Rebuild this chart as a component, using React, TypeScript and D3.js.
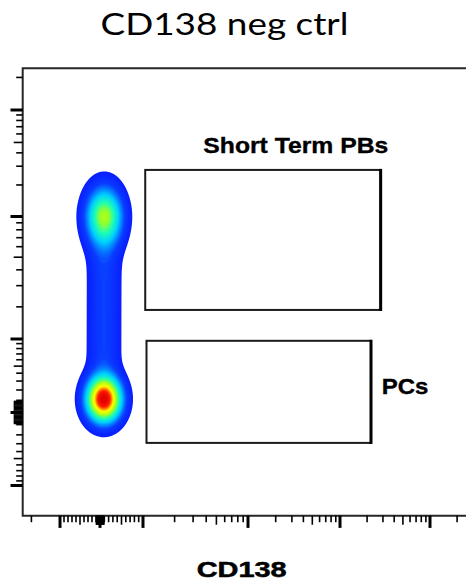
import React from 'react';
import * as d3 from 'd3';

// ---------------- DATA ----------------
const titleText = 'CD138 neg ctrl';
const xLabelText = 'CD138';

// biexponential display: anchor values of the decades on each axis
const xAnchorValues = [-1000, -100, 0, 100, 1000, 10000, 100000];
const yAnchorValues = [-10000, -1000, 0, 1000, 10000, 100000];

// tick values
const xMajorTicks = [-100, 0, 100, 1000, 10000, 100000];
const yMajorTicks = [-1000, 0, 1000, 10000, 100000];
const xTickDecades = [-100, -10, -1, 1, 10, 100, 1000, 10000, 100000];
const yTickDecades = [-1000, -100, -10, 10, 100, 1000, 10000, 100000];
const tickMantissas = [1, 2, 3, 4, 5, 6, 7, 8, 9];
const xClusterLimit = 10; // |v| below this: packed ticks around zero
const yClusterLimit = 100;

// gates (data units)
const gateNames = ['Short Term PBs', 'PCs'];
const gateXMin = [105, 108];
const gateXMax = [28300, 22100];
const gateYMin = [1880, -290];
const gateYMax = [27700, 960];

// cell populations (density lobes) in data units
const popNames = ['upper lobe', 'lower lobe'];
const popX = [10, 9];
const popY = [10000, 110];
const popWeight = [0.4, 0.95];
const bridgeWeight = 0.055; // cells between the two lobes

// ---------------- LAYOUT / STYLE ----------------
const W = 466;
const H = 588;
const L = {
  plotLeft: 22.7,
  plotTop: 68.3,
  plotBottom: 515.7,
  plotRight: 470,
  xAnchorPx: [-35, 60, 100, 143, 248, 340, 430],
  yAnchorPx: [615, 485.5, 412.5, 339, 216.5, 110],
  tickMajor: 12.2,
  tickMedium: 9,
  tickMinor: 6.5,
  gridX0: 58,
  gridY0: 150,
  gridW: 96,
  gridH: 310,
  popSpreadPx: [
    [10.2, 16.6],
    [9.6, 12.6],
  ],
  bridgeSpreadPx: 9.4,
};
const frameColor = '#262626';

const Tx = (v: number) =>
  Math.abs(v) <= 100 ? v / 100 : Math.sign(v) * (1 + Math.log10(Math.abs(v) / 100));
const Ty = (v: number) => Math.sign(v) * Math.log10(1 + Math.abs(v) / 500);

const jet = d3
  .scaleLinear<string>()
  .domain([0, 0.15, 0.35, 0.5, 0.62, 0.76, 0.9, 1])
  .range(['#0a1eff', '#0a3cff', '#00d0ff', '#20ffb0', '#a0ff20', '#ffff00', '#ff1a00', '#e00000'])
  .clamp(true);

function buildTicks(decades: number[], majors: number[], clusterLimit: number) {
  const out: { v: number; kind: string }[] = [];
  majors.forEach((v) => out.push({ v, kind: 'major' }));
  decades.forEach((d) => {
    tickMantissas.forEach((m) => {
      const v = m * d;
      if (majors.includes(v)) return;
      let kind = 'minor';
      if (Math.abs(v) < clusterLimit) kind = 'cluster';
      else if (m === 5) kind = 'medium';
      out.push({ v, kind });
    });
  });
  return out;
}

export default function App() {
  const xLin = d3.scaleLinear().domain(xAnchorValues.map(Tx)).range(L.xAnchorPx);
  const yLin = d3.scaleLinear().domain(yAnchorValues.map(Ty)).range(L.yAnchorPx);
  const x = (v: number) => xLin(Tx(v));
  const y = (v: number) => yLin(Ty(v));

  // ---- density field ----
  const nx = L.gridW;
  const ny = L.gridH;
  const centers = popX.map((v, i) => [x(v), y(popY[i])]);
  const [ax, ay] = centers[0];
  const [bx, by] = centers[1];
  const segLen2 = (bx - ax) ** 2 + (by - ay) ** 2;
  const sb = L.bridgeSpreadPx;
  const values: number[] = new Array(nx * ny);
  for (let j = 0; j < ny; j++) {
    for (let i = 0; i < nx; i++) {
      const px = L.gridX0 + i + 0.5;
      const py = L.gridY0 + j + 0.5;
      let d = 0;
      centers.forEach(([cx, cy], k) => {
        const [sx, sy] = L.popSpreadPx[k];
        d += popWeight[k] * Math.exp(-((px - cx) ** 2 / (2 * sx * sx) + (py - cy) ** 2 / (2 * sy * sy)));
      });
      let t = ((px - ax) * (bx - ax) + (py - ay) * (by - ay)) / segLen2;
      t = Math.max(0, Math.min(1, t));
      const qx = ax + t * (bx - ax);
      const qy = ay + t * (by - ay);
      d += bridgeWeight * Math.exp(-((px - qx) ** 2 + (py - qy) ** 2) / (2 * sb * sb));
      values[i + j * nx] = d;
    }
  }
  const gamma = 0.5;
  const floor = 0.01;
  const nLevels = 48;
  const tg = Math.pow(floor, gamma);
  const levels = d3.range(nLevels).map((k) => Math.pow(tg + (k / nLevels) * (1 - tg), 1 / gamma));
  const contours = d3.contours().size([nx, ny]).thresholds(levels)(values);
  const geo = d3.geoPath();

  const xTicks = buildTicks(xTickDecades, xMajorTicks, xClusterLimit)
    .map((t) => ({ ...t, p: x(t.v) }))
    .filter((t) => t.p >= L.plotLeft && t.p <= W + 2);
  const yTicks = buildTicks(yTickDecades, yMajorTicks, yClusterLimit)
    .map((t) => ({ ...t, p: y(t.v) }))
    .filter((t) => t.p >= L.plotTop && t.p <= L.plotBottom);

  const tickLen = (k: string) =>
    k === 'major' ? L.tickMajor : k === 'medium' || k === 'cluster' ? L.tickMedium : L.tickMinor;
  const tickW = (k: string) => (k === 'major' ? 3 : 1.6);

  const labelFont = "'Liberation Sans', Arial, sans-serif";

  return (
    <svg
      width={W}
      height={H}
      viewBox={`0 0 ${W} ${H}`}
      style={{ position: 'absolute', left: 0, top: 0, background: '#fff' }}
    >
      <rect x={0} y={0} width={W} height={H} fill="#fff" />
      <text
        x={100.5}
        y={35}
        fontFamily="Lato, 'Open Sans', sans-serif"
        fontSize={30}
        textLength={248}
        lengthAdjust="spacingAndGlyphs"
        fill="#000"
      >
        {titleText}
      </text>

      {/* density */}
      <g transform={`translate(${L.gridX0},${L.gridY0})`}>
        {contours.map((c, k) => (
          <path key={k} d={geo(c as any) || ''} fill={jet((k + 0.5) / nLevels)} stroke="none" />
        ))}
      </g>

      {/* frame */}
      <path
        d={`M${L.plotRight},${L.plotTop}H${L.plotLeft}V${L.plotBottom}H${L.plotRight}`}
        fill="none"
        stroke={frameColor}
        strokeWidth={2}
      />

      {/* y ticks */}
      {yTicks.map((t, i) => (
        <line
          key={'y' + i}
          x1={L.plotLeft - tickLen(t.kind)}
          x2={L.plotLeft}
          y1={t.p}
          y2={t.p}
          stroke="#000"
          strokeWidth={tickW(t.kind)}
        />
      ))}
      {/* x ticks */}
      {xTicks.map((t, i) => (
        <line
          key={'x' + i}
          x1={t.p}
          x2={t.p}
          y1={L.plotBottom}
          y2={L.plotBottom + tickLen(t.kind)}
          stroke="#000"
          strokeWidth={tickW(t.kind)}
        />
      ))}

      {/* gates */}
      {gateNames.map((g, i) => {
        const x0 = x(gateXMin[i]);
        const x1 = x(gateXMax[i]);
        const y0 = y(gateYMax[i]);
        const y1 = y(gateYMin[i]);
        return (
          <g key={g}>
            <rect x={x0} y={y0} width={x1 - x0} height={y1 - y0} fill="none" stroke="#1a1a1a" strokeWidth={2} />
            <line x1={x1} x2={x1} y1={y0 - 1} y2={y1 + 1} stroke="#000" strokeWidth={3} />
          </g>
        );
      })}
      <text
        x={203.3}
        y={153.3}
        fontFamily={labelFont}
        fontWeight="bold"
        fontSize={22}
        textLength={185}
        lengthAdjust="spacingAndGlyphs"
        stroke="#000"
        strokeWidth={0.35}
      >
        {gateNames[0]}
      </text>
      <text
        x={381.7}
        y={394.3}
        fontFamily={labelFont}
        fontWeight="bold"
        fontSize={22}
        textLength={46.7}
        lengthAdjust="spacingAndGlyphs"
        stroke="#000"
        strokeWidth={0.35}
      >
        {gateNames[1]}
      </text>

      <text
        x={196.7}
        y={576.7}
        fontFamily={labelFont}
        fontWeight="bold"
        fontSize={21.5}
        textLength={90}
        lengthAdjust="spacingAndGlyphs"
        stroke="#000"
        strokeWidth={0.5}
      >
        {xLabelText}
      </text>
    </svg>
  );
}
